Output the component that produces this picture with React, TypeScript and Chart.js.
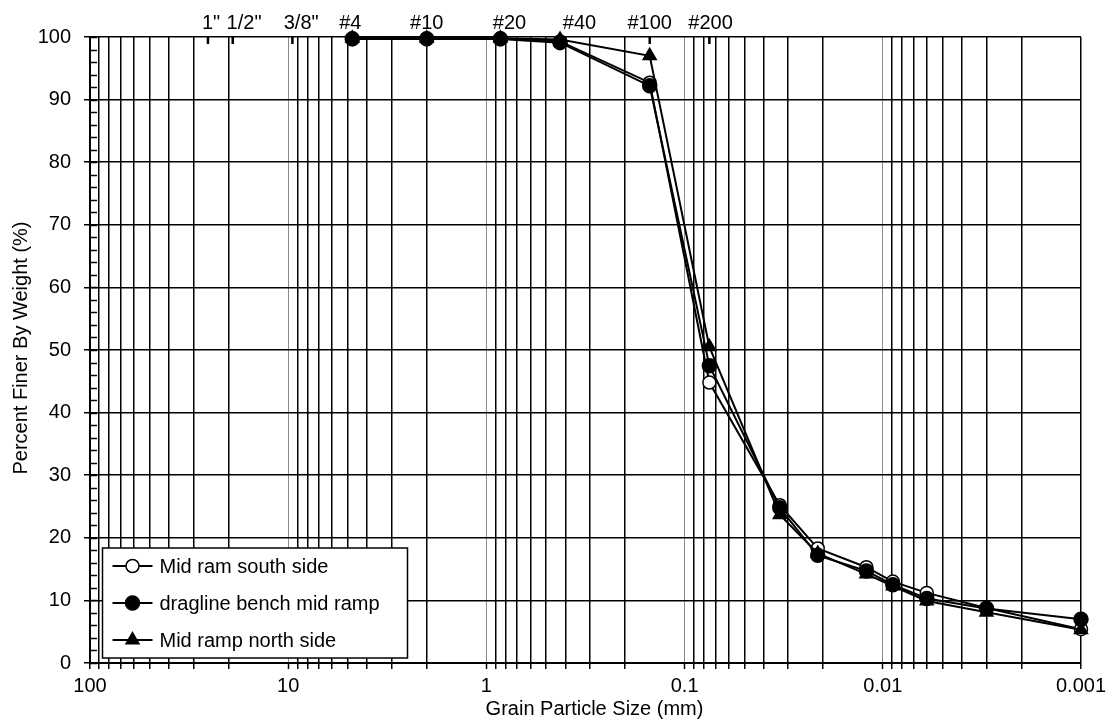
import React, { useEffect, useRef } from 'react';
import { Chart, registerables } from 'chart.js';

Chart.register(...registerables);

// ---- data ----
const grainSizes = [4.75, 2.0, 0.85, 0.425, 0.15, 0.075, 0.0331, 0.0213, 0.0121, 0.0089, 0.006, 0.003, 0.001];
const midRamSouth = [99.8, 99.8, 99.8, 99.3, 92.7, 44.8, 25.2, 18.3, 15.3, 13.0, 11.2, 8.8, 5.4];
const draglineBench = [99.7, 99.7, 99.7, 99.1, 92.2, 47.5, 24.8, 17.2, 14.7, 12.5, 10.3, 8.7, 7.0];
const midRampNorth = [99.8, 99.8, 99.8, 99.6, 97.0, 50.5, 23.7, 17.5, 14.2, 12.3, 9.9, 8.1, 5.3];
const seriesLabels = ['Mid ram south side', 'dragline bench mid ramp', 'Mid ramp north side'];

const sieveSizes = [25.4, 19.05, 9.525, 4.75, 2.0, 0.85, 0.425, 0.15, 0.075];
const sieveLabels = ['1"', '1/2"', '3/8"', '#4', '#10', '#20', '#40', '#100', '#200'];
const sieveLabelAnchors = [24.5, 16.7, 8.6, 4.86, 2.0, 0.765, 0.339, 0.15, 0.074];

const xDecades = [100, 10, 1, 0.1, 0.01, 0.001];
const xTickLabels = ['100', '10', '1', '0.1', '0.01', '0.001'];
const yMin = 0;
const yMax = 100;
const yStep = 10;
const yMinorStep = 2;

const xTitle = 'Grain Particle Size (mm)';
const yTitle = 'Percent Finer By Weight (%)';

const FONT = "'Liberation Sans', Arial, sans-serif";

function isDecade(v: number) {
  const l = Math.log10(v);
  return Math.abs(l - Math.round(l)) < 1e-9;
}

function decadeLabel(v: number) {
  for (let i = 0; i < xDecades.length; i++) {
    if (Math.abs(Math.log10(v) - Math.log10(xDecades[i])) < 1e-9) return xTickLabels[i];
  }
  return '';
}

function buildMinorValues() {
  const out: number[] = [];
  const kMin = Math.round(Math.log10(xDecades[xDecades.length - 1]));
  const kMax = Math.round(Math.log10(xDecades[0]));
  for (let k = kMin; k < kMax; k++) {
    for (let d = 1; d <= 9; d++) out.push(parseFloat((d * Math.pow(10, k)).toPrecision(6)));
  }
  out.push(xDecades[0]);
  return out;
}

function drawMarker(ctx: CanvasRenderingContext2D, style: string, x: number, y: number, r: number, fill: string) {
  ctx.save();
  ctx.beginPath();
  if (style === 'triangle') {
    let rad = 0;
    ctx.moveTo(x + Math.sin(rad) * r, y - Math.cos(rad) * r);
    rad += (2 * Math.PI) / 3;
    ctx.lineTo(x + Math.sin(rad) * r, y - Math.cos(rad) * r);
    rad += (2 * Math.PI) / 3;
    ctx.lineTo(x + Math.sin(rad) * r, y - Math.cos(rad) * r);
    ctx.closePath();
  } else {
    ctx.arc(x, y, r, 0, Math.PI * 2);
  }
  ctx.fillStyle = fill;
  ctx.fill();
  ctx.lineWidth = 1.5;
  ctx.strokeStyle = '#000';
  ctx.stroke();
  ctx.restore();
}

const decorPlugin = {
  id: 'decor',
  afterDraw(chart: any) {
    const ctx: CanvasRenderingContext2D = chart.ctx;
    const ca = chart.chartArea;
    const xs = chart.scales.x;
    const ys = chart.scales.y;
    ctx.save();
    // y minor ticks (inside)
    ctx.strokeStyle = '#000';
    ctx.lineWidth = 1.5;
    for (let v = yMin; v <= yMax; v += yMinorStep) {
      const py = Math.round(ys.getPixelForValue(v)) + 0.5;
      ctx.beginPath();
      ctx.moveTo(ca.left, py);
      ctx.lineTo(ca.left + 7, py);
      ctx.stroke();
    }
    // sieve tick marks on top
    ctx.lineWidth = 2.5;
    sieveSizes.forEach((s) => {
      const px = xs.getPixelForValue(s);
      ctx.beginPath();
      ctx.moveTo(px, ca.top);
      ctx.lineTo(px, ca.top + 7);
      ctx.stroke();
    });
    // sieve labels
    ctx.fillStyle = '#000';
    ctx.font = `20px ${FONT}`;
    ctx.textAlign = 'center';
    ctx.textBaseline = 'alphabetic';
    sieveLabels.forEach((t, i) => {
      const px = xs.getPixelForValue(sieveLabelAnchors[i]);
      ctx.fillText(t, px, ca.top - 8.5);
    });
    // axis titles
    ctx.textBaseline = 'middle';
    ctx.fillText(xTitle, (ca.left + ca.right) / 2 + 9, 709);
    ctx.save();
    ctx.translate(21, (ca.top + ca.bottom) / 2 - 2);
    ctx.rotate(-Math.PI / 2);
    ctx.fillText(yTitle, 0, 0);
    ctx.restore();

    // legend
    const lx = ca.left + 12.5;
    const ly = ca.bottom - 115;
    const lw = 305;
    const lh = 110;
    ctx.fillStyle = '#fff';
    ctx.fillRect(lx, ly, lw, lh);
    ctx.strokeStyle = '#000';
    ctx.lineWidth = 1.5;
    ctx.strokeRect(lx, ly, lw, lh);
    ctx.font = `20px ${FONT}`;
    ctx.textAlign = 'left';
    ctx.textBaseline = 'middle';
    chart.data.datasets.forEach((ds: any, i: number) => {
      const cy = ly + 18 + i * 37;
      ctx.strokeStyle = '#000';
      ctx.lineWidth = 2;
      ctx.beginPath();
      ctx.moveTo(lx + 10, cy);
      ctx.lineTo(lx + 50, cy);
      ctx.stroke();
      drawMarker(ctx, ds.pointStyle, lx + 30, cy, ds.pointRadius, ds.pointBackgroundColor);
      ctx.fillStyle = '#000';
      ctx.fillText(ds.label, lx + 57, cy + 1);
    });
    ctx.restore();
  },
};

export default function App() {
  const ref = useRef<HTMLCanvasElement | null>(null);

  useEffect(() => {
    document.body.style.margin = '0';
    if (!ref.current) return;
    Chart.defaults.font.family = FONT;
    const minorValues = buildMinorValues();
    const toPts = (arr: number[]) => arr.map((y, i) => ({ x: grainSizes[i], y }));

    const chart = new Chart(ref.current, {
      type: 'line',
      data: {
        datasets: [
          {
            label: seriesLabels[0],
            data: toPts(midRamSouth),
            borderColor: '#000',
            borderWidth: 2,
            pointStyle: 'circle',
            pointRadius: 6.5,
            pointBackgroundColor: '#fff',
            pointBorderColor: '#000',
            pointBorderWidth: 1.5,
            order: 3,
            clip: false,
          },
          {
            label: seriesLabels[1],
            data: toPts(draglineBench),
            borderColor: '#000',
            borderWidth: 2,
            pointStyle: 'circle',
            pointRadius: 7,
            pointBackgroundColor: '#000',
            pointBorderColor: '#000',
            pointBorderWidth: 1.5,
            order: 1,
            clip: false,
          },
          {
            label: seriesLabels[2],
            data: toPts(midRampNorth),
            borderColor: '#000',
            borderWidth: 2,
            pointStyle: 'triangle',
            pointRadius: 7.5,
            pointBackgroundColor: '#000',
            pointBorderColor: '#000',
            pointBorderWidth: 1.5,
            order: 2,
            clip: false,
          },
        ] as any,
      },
      options: {
        animation: false,
        responsive: false,
        devicePixelRatio: 1,
        layout: { padding: { top: 37, right: 29, left: 0, bottom: 0 } },
        plugins: {
          legend: { display: false },
          tooltip: { enabled: false },
        },
        scales: {
          x: {
            type: 'logarithmic',
            reverse: true,
            min: xDecades[xDecades.length - 1],
            max: xDecades[0],
            afterBuildTicks: (s: any) => {
              s.ticks = minorValues.map((v) => ({ value: v }));
            },
            afterFit: (s: any) => {
              s.height = 63;
            },
            ticks: {
              autoSkip: false,
              maxRotation: 0,
              minRotation: 0,
              padding: 5,
              color: '#000',
              font: { size: 20, family: FONT },
              callback: (v: any) => (isDecade(Number(v)) ? decadeLabel(Number(v)) : ''),
            },
            grid: {
              color: (c: any) => {
                const v = c.tick ? c.tick.value : 0;
                const interiorDecade = isDecade(v) && v > xDecades[xDecades.length - 1] * 1.001 && v < xDecades[0] * 0.999;
                return interiorDecade ? '#8a8a8a' : '#000';
              },
              lineWidth: (c: any) => {
                const v = c.tick ? c.tick.value : 0;
                const interiorDecade = isDecade(v) && v > xDecades[xDecades.length - 1] * 1.001 && v < xDecades[0] * 0.999;
                return interiorDecade ? 1 : 1.5;
              },
              tickLength: 6,
              tickColor: '#000',
              tickWidth: 1.5,
            },
            border: { display: true, color: '#000', width: 2 },
          },
          y: {
            type: 'linear',
            min: yMin,
            max: yMax,
            afterFit: (s: any) => {
              s.width = 90;
            },
            ticks: {
              stepSize: yStep,
              padding: 13,
              color: '#000',
              font: { size: 20, family: FONT },
            },
            grid: {
              color: '#000',
              lineWidth: 1.5,
              tickLength: 6,
              tickColor: '#000',
              tickWidth: 1.5,
            },
            border: { display: true, color: '#000', width: 2 },
          },
        },
      } as any,
      plugins: [decorPlugin],
    });
    return () => chart.destroy();
  }, []);

  return (
    <div style={{ width: 1110, height: 726, background: '#fff' }}>
      <canvas ref={ref} width={1110} height={726} style={{ display: 'block' }} />
    </div>
  );
}
